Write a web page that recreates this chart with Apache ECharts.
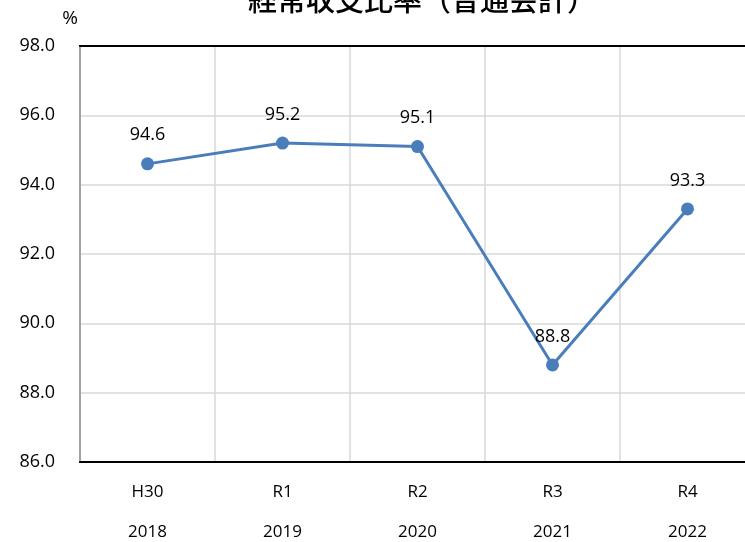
<!DOCTYPE html>
<html>
<head>
<meta charset="utf-8">
<script src="https://cdn.jsdelivr.net/npm/echarts@6/dist/echarts.min.js"></script>
<style>
  html, body { margin: 0; padding: 0; background: #fff; }
  #chart { width: 745px; height: 542px; }
</style>
</head>
<body>
<div id="chart"></div>
<script>
// Era labels and Western years shown under each category
const eraLabels = ['H30', 'R1', 'R2', 'R3', 'R4'];
const yearLabels = ['2018', '2019', '2020', '2021', '2022'];
// 経常収支比率 (%)
const ratioValues = [94.6, 95.2, 95.1, 88.8, 93.3];

const categories = eraLabels.map((e, i) => e + '\n' + yearLabels[i]);
const font = '"Open Sans", "Noto Sans", sans-serif';

const chart = echarts.init(document.getElementById('chart'));
chart.setOption({
  animation: false,
  backgroundColor: '#fff',
  title: {
    text: '経常収支比率（普通会計）',
    left: 243,
    top: -20,
    textStyle: {
      fontFamily: '"Noto Sans CJK JP", sans-serif',
      fontSize: 29,
      fontWeight: 500,
      color: '#000'
    }
  },
  grid: {
    left: 80,
    top: 46,
    width: 675,
    height: 416,
    outerBoundsMode: 'none',
    containLabel: false,
    show: true,
    borderColor: '#000',
    borderWidth: 2,
    backgroundColor: '#fff'
  },
  xAxis: [{
    type: 'category',
    data: categories,
    boundaryGap: true,
    axisLine: { show: true, lineStyle: { color: '#000', width: 2 } },
    axisTick: { show: false },
    splitLine: { show: true, interval: 0, lineStyle: { color: '#d9d9d9', width: 1.5 } },
    axisLabel: {
      interval: 0,
      margin: 10,
      color: '#000',
      fontFamily: font,
      fontSize: 17,
      lineHeight: 40
    },
    z: 3
  }, {
    // black frame edge along the top of the plot
    type: 'category',
    data: categories,
    position: 'top',
    axisLine: { show: true, lineStyle: { color: '#000', width: 2 } },
    axisTick: { show: false },
    axisLabel: { show: false },
    splitLine: { show: false },
    z: 3
  }],
  yAxis: {
    type: 'value',
    min: 86,
    max: 98,
    interval: 2,
    name: '%',
    nameLocation: 'end',
    nameGap: 18,
    nameTextStyle: { color: '#000', fontFamily: font, fontSize: 19, align: 'center', padding: [0, 0, 0, -20] },
    axisLine: { show: true, lineStyle: { color: '#000', width: 2 } },
    axisTick: { show: false },
    splitLine: { show: true, lineStyle: { color: '#d9d9d9', width: 1.5 } },
    axisLabel: {
      margin: 25,
      color: '#000',
      fontFamily: font,
      fontSize: 18,
      formatter: v => v.toFixed(1)
    }
  },
  series: [{
    type: 'line',
    data: ratioValues,
    symbol: 'circle',
    symbolSize: 13,
    itemStyle: { color: '#4a7ebb' },
    lineStyle: { color: '#4a7ebb', width: 3 },
    label: {
      show: true,
      position: 'top',
      distance: 13,
      color: '#000',
      fontFamily: font,
      fontSize: 18,
      formatter: p => p.value.toFixed(1)
    },
    z: 5
  }]
});
</script>
</body>
</html>
